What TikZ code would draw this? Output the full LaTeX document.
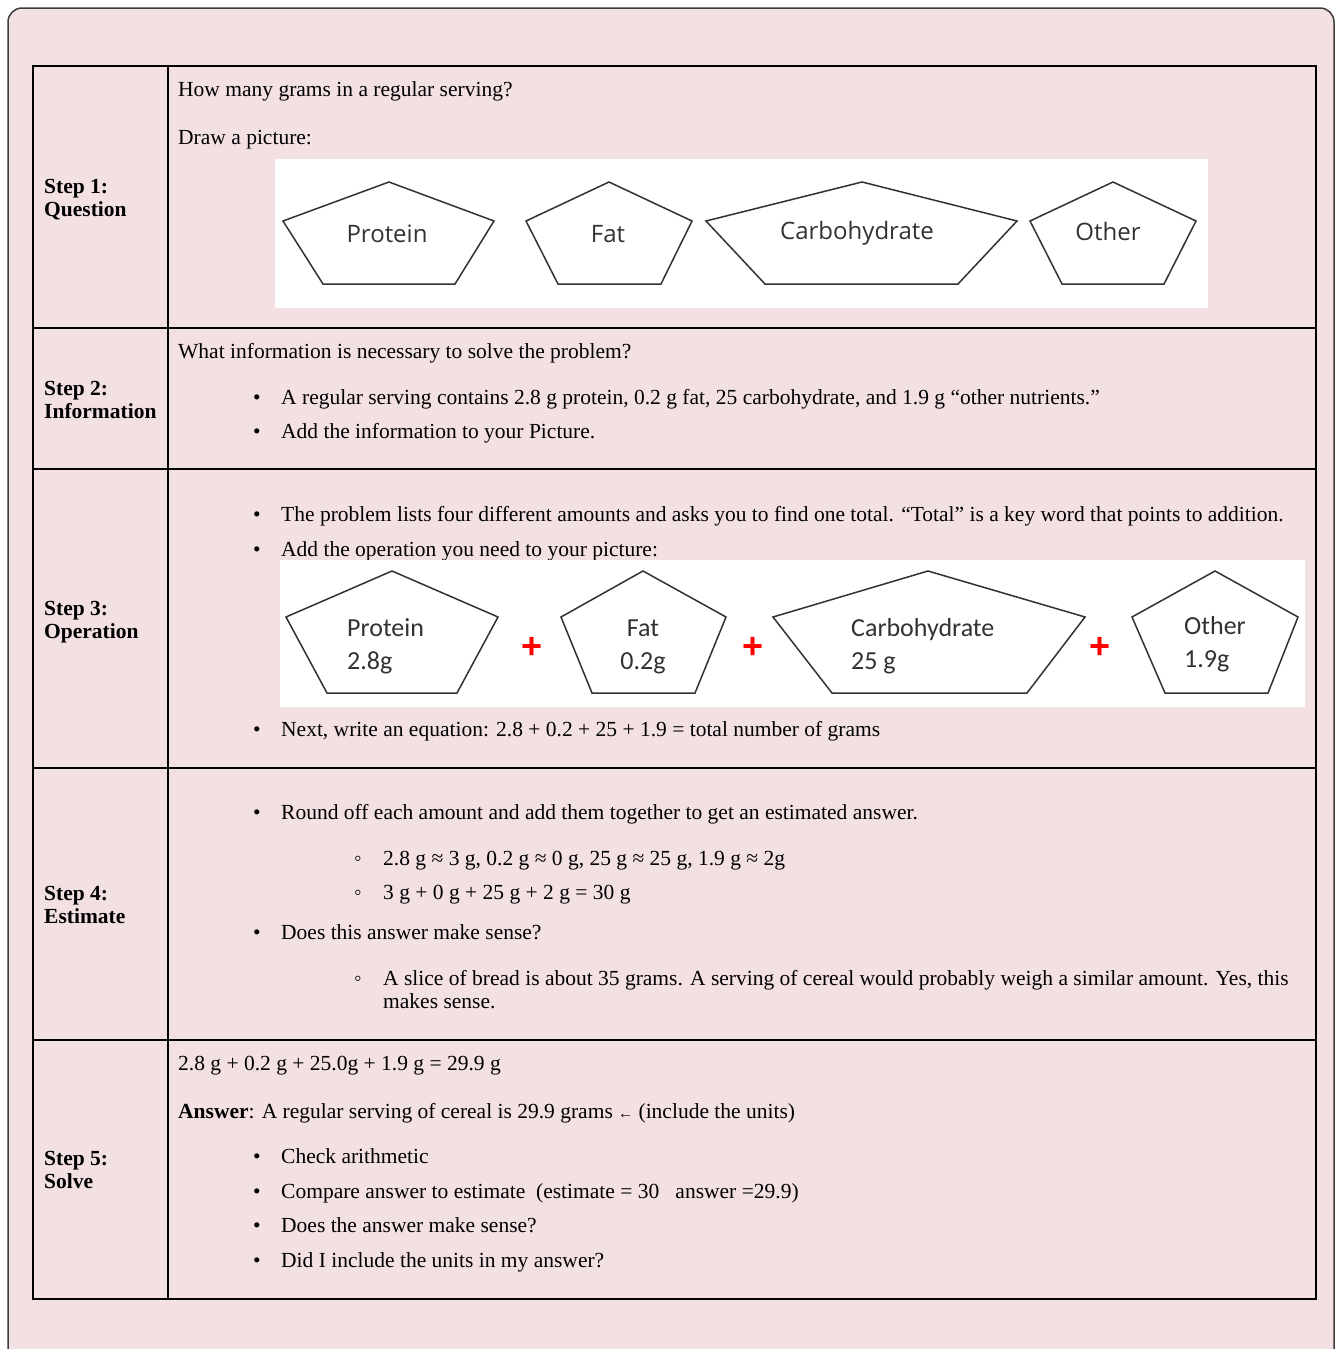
\documentclass[tikz,border=0pt]{standalone}
\usepackage{fontspec}
\setmainfont{Liberation Serif}
\newfontfamily\pentfont{Open Sans}
\newfontfamily\calfont{Carlito}
\newfontfamily\plusfont{Liberation Sans}
\definecolor{cardpink}{RGB}{243,224,227}
\definecolor{framegray}{RGB}{60,60,60}
\definecolor{shapegray}{RGB}{50,50,50}
\definecolor{plusred}{RGB}{255,0,0}

\begin{document}
\begin{tikzpicture}[x=1pt,y=-1pt]
	\tikzset{txt/.style={anchor=base west,inner sep=0pt,font=\fontsize{21.5}{23}\selectfont},
		steplabel/.style={txt,font=\fontsize{21.5}{23}\selectfont\bfseries,align=left},
		pent/.style={shapegray,line width=1.5,line join=miter},
		penttext/.style={inner sep=0pt,text=shapegray,font=\pentfont\fontsize{24}{24}\selectfont},
		caltext/.style={anchor=base west,inner sep=0pt,text=shapegray,font=\calfont\fontsize{26}{33}\selectfont,align=left},
		plus/.style={inner sep=0pt,text=plusred,font=\plusfont\bfseries\fontsize{36}{36}\selectfont}};
	\useasboundingbox (0,0) rectangle (1336,1349);
	\clip (0,0) rectangle (1336,1349);
	\fill[white] (0,0) rectangle (1336,1349);
	\draw[framegray,line width=1.5,fill=cardpink,rounded corners=14] (8,8) rectangle (1334,1390);
	% table
	\draw[black,line width=2] (33,66) rectangle (1316,1299);
	\draw[black,line width=2] (168,66) -- (168,1299);
	\foreach \yy in {328,469,768,1040}
		\draw[black,line width=2] (33,\yy) -- (1316,\yy);
	% step 1
	\node[steplabel] (stepone) at (44,216) {Step 1:\\Question};
	\node[txt] (howmany) at (178,96) {How many grams in a regular serving?};
	\node[txt] (drawpic) at (178,144) {Draw a picture:};
	\fill[white] (275,159) rectangle (1208,308);
	\draw[pent] (389,182) -- (494,221) -- (455,284) -- (323,284) -- (283,221) -- cycle;
	\draw[pent] (609,182) -- (692,221) -- (661,284) -- (558,284) -- (526,221) -- cycle;
	\draw[pent] (862,182) -- (1017,221) -- (958,284) -- (765,284) -- (706,221) -- cycle;
	\draw[pent] (1113,182) -- (1196,221) -- (1164,284) -- (1062,284) -- (1030,221) -- cycle;
	\node[penttext] (protein) at (387,234) {Protein};
	\node[penttext] (fat) at (608,234) {Fat};
	\node[penttext] (carb) at (857,233) {Carbohydrate};
	\node[penttext] (other) at (1108,231) {Other};
	% step 2
	\node[steplabel] (steptwo) at (44,418) {Step 2:\\Information};
	\node[txt] (whatinfo) at (178,358) {What information is necessary to solve the problem?};
	\node[txt] (dota) at (253,404) {•};
	\node[txt] (infoa) at (281,404) {A regular serving contains 2.8 g protein, 0.2 g fat, 25 carbohydrate, and 1.9 g “other nutrients.”};
	\node[txt] (dotb) at (253,438) {•};
	\node[txt] (infob) at (281,438) {Add the information to your Picture.};
	% step 3
	\node[steplabel] (stepthree) at (44,638) {Step 3:\\Operation};
	\node[txt] (dotc) at (253,521) {•};
	\node[txt] (opa) at (281,521) {The problem lists four different amounts and asks you to find one total. “Total” is a key word that points to addition.};
	\node[txt] (dotd) at (253,556) {•};
	\node[txt] (opb) at (281,556) {Add the operation you need to your picture:};
	\fill[white] (280,560) rectangle (1305,707);
	\draw[pent] (392,571) -- (498,617) -- (457,693) -- (327,693) -- (286,617) -- cycle;
	\draw[pent] (643,571) -- (726,617) -- (695,693) -- (592,693) -- (561,617) -- cycle;
	\draw[pent] (928,571) -- (1085,617) -- (1027,693) -- (832,693) -- (773,617) -- cycle;
	\draw[pent] (1215,571) -- (1298,617) -- (1268,693) -- (1165,693) -- (1132,617) -- cycle;
	\node[caltext] (proteinval) at (347,669) {Protein\\2.8g};
	\node[caltext,align=center,anchor=base] (fatval) at (643,669) {Fat\\0.2g};
	\node[caltext] (carbval) at (851,669) {Carbohydrate\\25 g};
	\node[caltext] (otherval) at (1184,667) {Other\\1.9g};
	\node[plus] (plusa) at (532,648) {+};
	\node[plus] (plusb) at (753,648) {+};
	\node[plus] (plusc) at (1100,648) {+};
	\node[txt] (dote) at (253,736) {•};
	\node[txt] (opc) at (281,736) {Next, write an equation: 2.8 + 0.2 + 25 + 1.9 = total number of grams};
	% step 4
	\node[steplabel] (stepfour) at (44,923) {Step 4:\\Estimate};
	\node[txt] (dotf) at (253,819) {•};
	\node[txt] (esta) at (281,819) {Round off each amount and add them together to get an estimated answer.};
	\node[txt] (ringa) at (354,865) {◦};
	\node[txt] (estb) at (383,865) {2.8 g ≈ 3 g, 0.2 g ≈ 0 g, 25 g ≈ 25 g, 1.9 g ≈ 2g};
	\node[txt] (ringb) at (354,899) {◦};
	\node[txt] (estc) at (383,899) {3 g + 0 g + 25 g + 2 g = 30 g};
	\node[txt] (dotg) at (253,939) {•};
	\node[txt] (estd) at (281,939) {Does this answer make sense?};
	\node[txt] (ringc) at (354,985) {◦};
	\node[txt,align=left] (este) at (383,1008) {A slice of bread is about 35 grams. A serving of cereal would probably weigh a similar amount. Yes, this\\makes sense.};
	% step 5
	\node[steplabel] (stepfive) at (44,1188) {Step 5:\\Solve};
	\node[txt] (solvea) at (178,1070) {2.8 g + 0.2 g + 25.0g + 1.9 g = 29.9 g};
	\node[txt] (solveb) at (178,1118) {\textbf{Answer}: A regular serving of cereal is 29.9 grams {\fontsize{15}{15}\selectfont ←} (include the units)};
	\node[txt] (doth) at (253,1163) {•};
	\node[txt] (checka) at (281,1163) {Check arithmetic};
	\node[txt] (doti) at (253,1198) {•};
	\node[txt] (checkb) at (281,1198) {Compare answer to estimate~~(estimate = 30~~~answer =29.9)};
	\node[txt] (dotj) at (253,1232) {•};
	\node[txt] (checkc) at (281,1232) {Does the answer make sense?};
	\node[txt] (dotk) at (253,1267) {•};
	\node[txt] (checkd) at (281,1267) {Did I include the units in my answer?};
\end{tikzpicture}
\end{document}
